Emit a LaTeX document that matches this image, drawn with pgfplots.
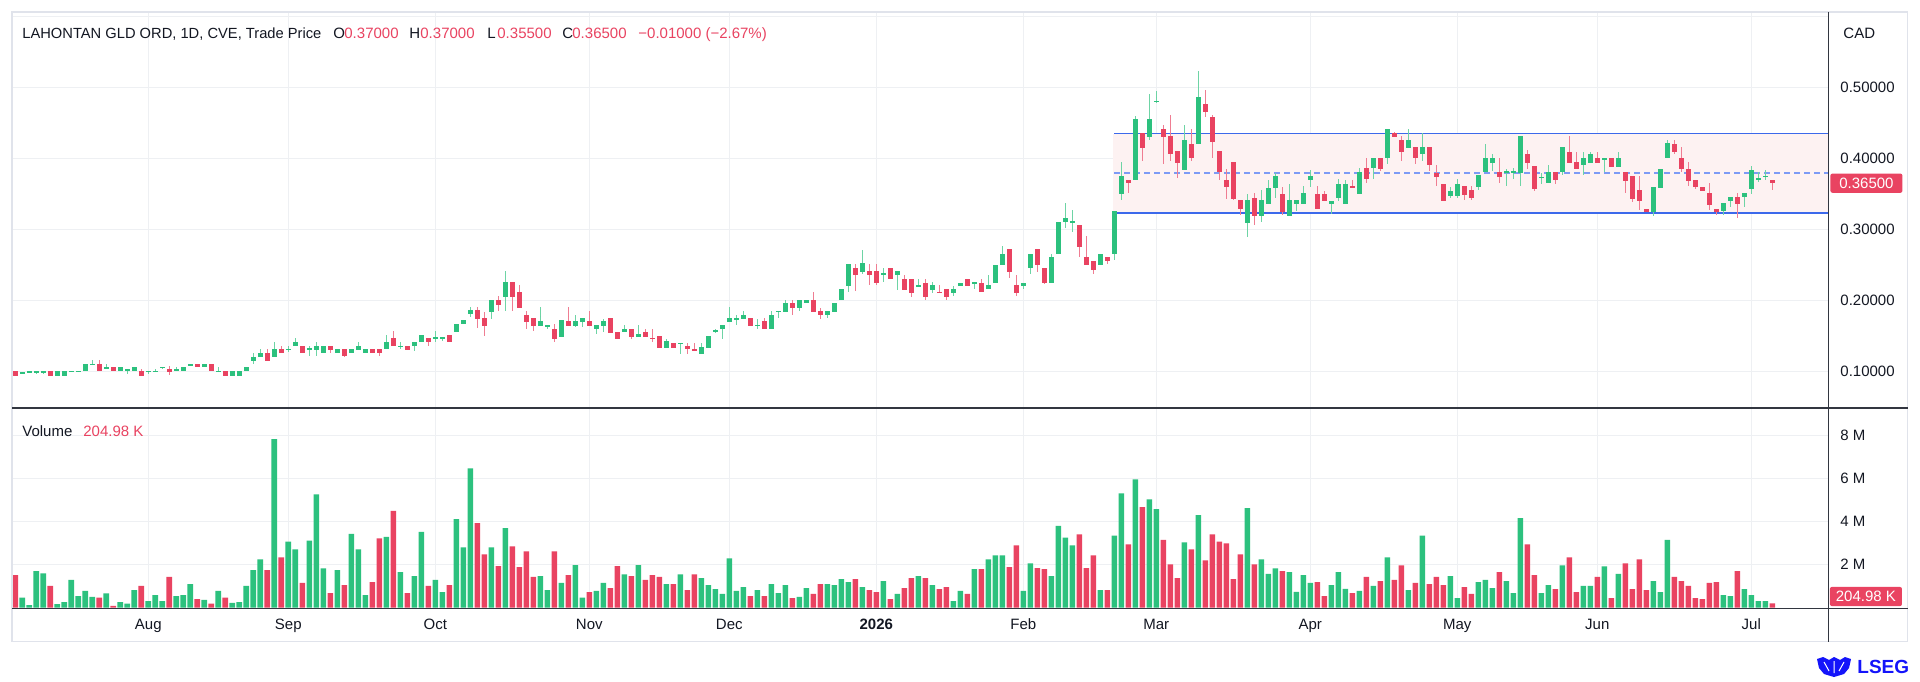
\documentclass[border=0pt]{standalone}
\usepackage{pgfplots}
\pgfplotsset{compat=1.18}
\usepackage{pgfplotstable}
\usepackage{fontspec}
\setmainfont{Liberation Sans}
\definecolor{up}{RGB}{44,193,126}
\definecolor{dn}{RGB}{233,67,97}
\definecolor{upw}{RGB}{110,212,165}
\definecolor{dnw}{RGB}{239,125,146}
\definecolor{gridc}{RGB}{238,240,243}
\definecolor{txt}{RGB}{19,23,34}
\definecolor{boxfill}{RGB}{253,242,242}
\definecolor{boxline}{RGB}{60,105,235}
\definecolor{boxdash}{RGB}{125,155,245}
\definecolor{framec}{RGB}{224,227,235}
\definecolor{sepc}{RGB}{50,54,64}
\definecolor{lseg}{RGB}{20,20,250}
\newcommand{\f}{\fontsize{7.5}{9}\selectfont}

\pgfplotstableread{
i o h l c v
0 0.100 0.100 0.094 0.094 1.52
1 0.098 0.099 0.096 0.098 0.47
2 0.099 0.0995 0.098 0.099 0.12
3 0.099 0.099 0.096 0.099 1.70
4 0.099 0.099 0.096 0.099 1.60
5 0.100 0.100 0.094 0.094 1.01
6 0.094 0.100 0.094 0.100 0.17
7 0.094 0.100 0.094 0.100 0.26
8 0.100 0.100 0.100 0.100 1.29
9 0.100 0.100 0.100 0.100 0.54
10 0.100 0.110 0.100 0.110 0.78
11 0.110 0.116 0.110 0.110 0.50
12 0.110 0.116 0.100 0.100 0.47
13 0.105 0.110 0.105 0.1055 0.67
14 0.1055 0.1055 0.100 0.100 0.09
15 0.100 0.1055 0.100 0.1055 0.26
16 0.102 0.1033 0.096 0.102 0.19
17 0.100 0.1055 0.100 0.1055 0.82
18 0.100 0.1033 0.094 0.094 1.01
19 0.100 0.100 0.096 0.100 0.31
20 0.100 0.1033 0.100 0.100 0.59
21 0.1055 0.1055 0.1033 0.1055 0.31
22 0.1033 0.107 0.0955 0.0985 1.43
23 0.100 0.1055 0.100 0.1033 0.54
24 0.100 0.1055 0.100 0.1055 0.59
25 0.109 0.110 0.108 0.110 1.10
26 0.110 0.110 0.1055 0.1055 0.40
27 0.1055 0.110 0.1055 0.110 0.36
28 0.110 0.110 0.100 0.100 0.19
29 0.100 0.1055 0.100 0.100 0.78
30 0.100 0.100 0.094 0.094 0.47
31 0.094 0.100 0.094 0.100 0.23
32 0.094 0.100 0.094 0.100 0.26
33 0.100 0.1055 0.100 0.1055 1.01
34 0.115 0.1255 0.111 0.120 1.75
35 0.120 0.1316 0.120 0.1255 2.25
36 0.1255 0.1316 0.115 0.115 1.75
37 0.120 0.141 0.120 0.1316 7.84
38 0.1316 0.1354 0.1255 0.1255 2.34
39 0.131 0.1354 0.127 0.1316 3.07
40 0.1354 0.1472 0.1354 0.141 2.71
41 0.1354 0.1354 0.1255 0.1255 1.15
42 0.1316 0.1354 0.1212 0.1316 3.12
43 0.1307 0.141 0.1212 0.1354 5.27
44 0.1255 0.1354 0.1255 0.1354 1.83
45 0.1354 0.1354 0.1255 0.1307 0.68
46 0.1255 0.1316 0.1255 0.1316 1.75
47 0.1316 0.1316 0.1198 0.1222 1.05
48 0.1255 0.1316 0.1255 0.1316 3.44
49 0.1307 0.141 0.1307 0.1354 2.71
50 0.1255 0.1316 0.1255 0.1316 0.59
51 0.1316 0.1316 0.1255 0.1255 1.19
52 0.1316 0.1316 0.1212 0.1255 3.22
53 0.1316 0.1505 0.1316 0.141 3.30
54 0.1472 0.1571 0.1354 0.1354 4.50
55 0.1354 0.141 0.1316 0.1354 1.66
56 0.1354 0.1354 0.1307 0.1307 0.68
57 0.1354 0.141 0.129 0.141 1.47
58 0.141 0.1505 0.141 0.1505 3.53
59 0.1472 0.1472 0.1354 0.141 1.01
60 0.147 0.1571 0.141 0.1472 1.29
61 0.147 0.1472 0.1434 0.1472 0.73
62 0.1505 0.1505 0.141 0.141 1.05
63 0.1552 0.166 0.1552 0.166 4.12
64 0.166 0.1717 0.166 0.1717 2.81
65 0.1811 0.1906 0.1764 0.1858 6.48
66 0.1858 0.1906 0.1608 0.1741 3.94
67 0.1755 0.183 0.150 0.164 2.48
68 0.1835 0.200 0.173 0.200 2.81
69 0.200 0.206 0.185 0.194 1.94
70 0.205 0.241 0.185 0.226 3.70
71 0.226 0.226 0.185 0.205 2.85
72 0.212 0.221 0.189 0.189 1.89
73 0.180 0.185 0.160 0.169 2.62
74 0.1755 0.1755 0.157 0.164 1.43
75 0.164 0.190 0.164 0.171 1.47
76 0.164 0.164 0.160 0.164 0.82
77 0.160 0.166 0.141 0.146 2.62
78 0.149 0.172 0.149 0.172 1.15
79 0.171 0.190 0.164 0.164 1.52
80 0.164 0.180 0.162 0.171 1.98
81 0.169 0.175 0.163 0.175 0.47
82 0.171 0.185 0.164 0.164 0.73
83 0.159 0.165 0.153 0.165 0.78
84 0.164 0.173 0.156 0.171 1.15
85 0.175 0.175 0.154 0.154 0.91
86 0.155 0.155 0.146 0.146 1.94
87 0.155 0.165 0.155 0.159 1.55
88 0.160 0.160 0.146 0.149 1.47
89 0.149 0.165 0.149 0.153 1.98
90 0.155 0.160 0.149 0.149 1.29
91 0.1465 0.160 0.141 0.146 1.52
92 0.150 0.150 0.133 0.133 1.43
93 0.133 0.146 0.133 0.143 1.10
94 0.140 0.140 0.133 0.133 1.10
95 0.1395 0.140 0.125 0.140 1.55
96 0.135 0.140 0.125 0.131 0.82
97 0.1302 0.140 0.130 0.130 1.55
98 0.124 0.140 0.124 0.1345 1.38
99 0.133 0.1495 0.133 0.1495 1.05
100 0.1565 0.160 0.154 0.157 0.87
101 0.160 0.1646 0.146 0.1646 0.64
102 0.169 0.190 0.169 0.1755 2.29
103 0.1735 0.180 0.165 0.174 0.78
104 0.174 0.185 0.174 0.180 0.96
105 0.1755 0.1755 0.164 0.164 0.54
106 0.1645 0.174 0.160 0.165 0.82
107 0.171 0.1755 0.160 0.160 0.54
108 0.159 0.185 0.159 0.180 1.10
109 0.1845 0.185 0.175 0.185 0.68
110 0.1835 0.200 0.1835 0.1967 1.05
111 0.196 0.200 0.180 0.189 0.45
112 0.189 0.200 0.185 0.200 0.50
113 0.196 0.200 0.196 0.200 0.91
114 0.200 0.212 0.1835 0.1835 0.64
115 0.185 0.189 0.174 0.179 1.10
116 0.179 0.185 0.175 0.185 1.10
117 0.1835 0.196 0.1835 0.196 1.05
118 0.200 0.2156 0.200 0.2156 1.33
119 0.220 0.251 0.212 0.251 1.19
120 0.246 0.251 0.213 0.235 1.33
121 0.240 0.271 0.237 0.253 0.96
122 0.2406 0.251 0.221 0.2354 0.82
123 0.2406 0.251 0.221 0.225 0.73
124 0.2375 0.246 0.226 0.238 1.24
125 0.246 0.246 0.2297 0.2297 0.40
126 0.236 0.2406 0.215 0.2406 0.64
127 0.2307 0.2354 0.2146 0.2146 0.91
128 0.2307 0.2307 0.204 0.210 1.38
129 0.2205 0.2307 0.2205 0.221 1.47
130 0.225 0.2307 0.200 0.204 1.38
131 0.2146 0.2255 0.211 0.221 1.05
132 0.2112 0.221 0.211 0.211 0.87
133 0.2156 0.2156 0.200 0.2047 0.96
134 0.210 0.2203 0.2061 0.2156 0.31
135 0.2203 0.225 0.2203 0.225 0.78
136 0.2305 0.2305 0.220 0.220 0.64
137 0.2245 0.225 0.216 0.225 1.80
138 0.225 0.2305 0.212 0.212 1.80
139 0.2155 0.236 0.2155 0.221 2.25
140 0.225 0.250 0.225 0.250 2.43
141 0.250 0.2765 0.250 0.265 2.43
142 0.272 0.272 0.232 0.240 1.89
143 0.221 0.236 0.206 0.210 2.90
144 0.2202 0.225 0.216 0.225 0.78
145 0.246 0.265 0.2366 0.265 2.06
146 0.272 0.272 0.240 0.250 1.84
147 0.246 0.246 0.2225 0.225 1.80
148 0.225 0.265 0.225 0.261 1.47
149 0.265 0.311 0.265 0.311 3.81
150 0.311 0.3366 0.3014 0.3164 3.26
151 0.3105 0.3267 0.2967 0.311 2.90
152 0.3056 0.3056 0.2615 0.2756 3.41
153 0.2615 0.2906 0.2498 0.2498 1.84
154 0.2554 0.2554 0.2366 0.2427 2.43
155 0.2498 0.2648 0.2498 0.2648 0.82
156 0.261 0.261 0.2507 0.2554 0.82
157 0.2648 0.3258 0.2563 0.3258 3.35
158 0.350 0.395 0.342 0.3756 5.32
159 0.3695 0.3695 0.351 0.365 2.95
160 0.3695 0.4596 0.3695 0.4559 5.97
161 0.4352 0.4352 0.3958 0.415 4.68
162 0.4305 0.4906 0.4258 0.4559 5.04
163 0.480 0.4944 0.478 0.4808 4.59
164 0.4408 0.4465 0.3915 0.4305 3.16
165 0.4315 0.4605 0.3958 0.4056 2.02
166 0.4103 0.4103 0.3728 0.394 1.38
167 0.384 0.4465 0.384 0.4258 3.04
168 0.4197 0.4413 0.3958 0.400 2.71
169 0.4197 0.523 0.4197 0.4869 4.31
170 0.4765 0.4963 0.4577 0.4652 2.20
171 0.4577 0.4605 0.4009 0.423 3.41
172 0.4103 0.4103 0.3695 0.3803 3.07
173 0.3695 0.3845 0.3432 0.3592 2.99
174 0.3948 0.3948 0.3408 0.3432 1.33
175 0.3408 0.3408 0.3197 0.3291 2.48
176 0.3094 0.3502 0.2897 0.3413 4.63
177 0.3446 0.3516 0.3056 0.3188 2.02
178 0.3188 0.3549 0.3103 0.3408 2.25
179 0.3352 0.369 0.3352 0.3577 1.57
180 0.3577 0.3798 0.3446 0.3751 1.83
181 0.3502 0.3596 0.3197 0.3244 1.70
182 0.3188 0.3643 0.3188 0.3408 1.66
183 0.3352 0.3413 0.3258 0.3413 0.74
184 0.3352 0.3615 0.3352 0.3507 1.52
185 0.369 0.384 0.3601 0.3751 1.15
186 0.3502 0.3615 0.3286 0.3286 1.19
187 0.3502 0.354 0.3399 0.3399 0.54
188 0.3352 0.3399 0.3211 0.3399 1.05
189 0.3446 0.3704 0.3399 0.3643 1.66
190 0.3352 0.369 0.3352 0.3643 0.88
191 0.3605 0.369 0.3601 0.3601 0.68
192 0.3493 0.3859 0.3493 0.3803 0.78
193 0.3859 0.400 0.3657 0.3704 1.43
194 0.3859 0.400 0.3709 0.400 1.01
195 0.400 0.400 0.3822 0.3845 1.24
196 0.400 0.4408 0.392 0.4408 2.34
197 0.4352 0.4376 0.4305 0.4305 1.29
198 0.4258 0.4315 0.3958 0.4094 1.97
199 0.415 0.4408 0.415 0.4258 0.82
200 0.4164 0.4164 0.3915 0.400 1.15
201 0.4056 0.4352 0.3958 0.4164 3.35
202 0.4164 0.4164 0.3822 0.3906 1.10
203 0.3798 0.3906 0.3615 0.3737 1.43
204 0.3643 0.3643 0.3399 0.3399 1.05
205 0.3474 0.3601 0.3446 0.354 1.47
206 0.3474 0.3704 0.3446 0.3643 0.45
207 0.3606 0.3606 0.3408 0.3488 0.96
208 0.3549 0.361 0.3408 0.3446 0.64
209 0.3596 0.3761 0.3559 0.3761 1.19
210 0.3803 0.4197 0.3803 0.400 1.29
211 0.3939 0.4061 0.3816 0.400 0.91
212 0.3811 0.400 0.3656 0.3741 1.66
213 0.3806 0.3844 0.3608 0.3811 1.24
214 0.3806 0.3858 0.3703 0.3811 0.68
215 0.3797 0.4316 0.3608 0.4316 4.17
216 0.4061 0.4118 0.3844 0.3939 2.95
217 0.3892 0.3892 0.3542 0.3575 1.52
218 0.373 0.3797 0.3641 0.3736 0.68
219 0.3646 0.3906 0.3646 0.3811 1.05
220 0.3811 0.3811 0.3637 0.3693 0.87
221 0.3811 0.4156 0.3764 0.4156 1.97
222 0.4094 0.4316 0.3939 0.3939 2.34
223 0.3953 0.4094 0.3844 0.3844 0.73
224 0.3906 0.4094 0.3764 0.400 1.01
225 0.3939 0.4094 0.3939 0.4061 1.01
226 0.400 0.4094 0.3939 0.3939 1.43
227 0.3995 0.400 0.3811 0.400 1.92
228 0.400 0.400 0.3873 0.3873 0.45
229 0.3873 0.4094 0.3873 0.400 1.57
230 0.3811 0.3811 0.3505 0.3684 2.06
231 0.375 0.375 0.3387 0.3434 0.87
232 0.3547 0.375 0.3274 0.3396 2.25
233 0.3288 0.3288 0.3241 0.3241 0.82
234 0.3241 0.3594 0.3193 0.3594 1.24
235 0.3585 0.3849 0.3585 0.3849 0.73
236 0.400 0.4259 0.400 0.4212 3.16
237 0.4203 0.4259 0.4061 0.4094 1.43
238 0.400 0.4156 0.3811 0.3844 1.24
239 0.3844 0.3953 0.3608 0.3684 1.01
240 0.3693 0.3693 0.3561 0.3599 0.45
241 0.3599 0.3599 0.3538 0.3538 0.40
242 0.3505 0.3656 0.3274 0.334 1.15
243 0.3288 0.3288 0.3208 0.3241 1.19
244 0.3255 0.3373 0.3208 0.3373 0.59
245 0.3392 0.3453 0.3316 0.3453 0.54
246 0.3462 0.3509 0.316 0.3358 1.70
247 0.3458 0.3509 0.3316 0.3509 0.87
248 0.3575 0.3892 0.350 0.383 0.59
249 0.370 0.3811 0.3665 0.3726 0.31
250 0.3745 0.384 0.3698 0.375 0.31
251 0.370 0.370 0.355 0.365 0.205
}\data

\pgfplotsset{tvaxis/.style={
  scale only axis, width=908pt,
  xmin=-0.471, xmax=258.96,
  axis line style={draw=none}, major tick length=0pt,
  xtick={19,39,60,82,102,123,144,163,185,206,226,248},
  grid=major, grid style={gridc, line width=0.6pt},
  yticklabel pos=right,
  yticklabel style={anchor=west, inner sep=0pt, xshift=6pt, font=\f, text=txt},
  clip mode=individual,
},
candle/.style={only marks, mark=*, mark size=0pt, mark options={draw=none, fill=none},
  error bars/.cd, y dir=both, y explicit, error mark=none}
}

\begin{document}
\begin{tikzpicture}
\begin{scope}[x=0.5pt,y=-0.5pt]
\fill[white] (0,0) rectangle (1920,681);
\useasboundingbox (0,0) rectangle (1920,681);
\end{scope}

% price pane
\begin{axis}[tvaxis, at={(6pt,-204pt)}, anchor=south west, height=198pt,
  ymin=0.04831, ymax=0.6061,
  xticklabels={},
  ytick={0.1,0.2,0.3,0.4,0.5,0.6},
  yticklabels={0.10000,0.20000,0.30000,0.40000,0.50000,{}},
]
\fill[boxfill] (axis cs:156.8,0.323) rectangle (axis cs:258.96,0.4348);
\draw[boxline, line width=0.75pt] (axis cs:157,0.4348) -- (axis cs:258.96,0.4348);
\draw[boxline, line width=0.75pt] (axis cs:157,0.323) -- (axis cs:258.96,0.323);
\draw[boxdash, line width=0.75pt, dash pattern=on 3pt off 2pt] (axis cs:157,0.379) -- (axis cs:258.96,0.379);
% wicks
\addplot[restrict expr to domain={\thisrow{c}-\thisrow{o}}{0:1},
  candle, error bar style={upw, line width=0.75pt}]
  table[x=i, y expr={(\thisrow{h}+\thisrow{l})/2}, y error expr={(\thisrow{h}-\thisrow{l})/2}] {\data};
\addplot[restrict expr to domain={\thisrow{c}-\thisrow{o}}{-1:-0.0000001},
  candle, error bar style={dnw, line width=0.75pt}]
  table[x=i, y expr={(\thisrow{h}+\thisrow{l})/2}, y error expr={(\thisrow{h}-\thisrow{l})/2}] {\data};
% bodies
\addplot[restrict expr to domain={\thisrow{c}-\thisrow{o}}{0:1},
  candle, error bar style={up, line width=2.6pt}]
  table[x=i, y expr={(\thisrow{o}+\thisrow{c})/2}, y error expr={max(abs(\thisrow{c}-\thisrow{o})/2,0.0008)}] {\data};
\addplot[restrict expr to domain={\thisrow{c}-\thisrow{o}}{-1:-0.0000001},
  candle, error bar style={dn, line width=2.6pt}]
  table[x=i, y expr={(\thisrow{o}+\thisrow{c})/2}, y error expr={max(abs(\thisrow{c}-\thisrow{o})/2,0.0008)}] {\data};
\node[fill=dn, text=white, font=\f, inner sep=0pt, minimum width=36pt, minimum height=9.6pt,
  anchor=west, rounded corners=1pt, xshift=1pt] at (axis cs:258.96,0.365) {0.36500};
\end{axis}

% volume pane
\begin{axis}[tvaxis, at={(6pt,-303.85pt)}, anchor=south west, height=99.85pt,
  ymin=0, ymax=9.288,
  xticklabels={Aug,Sep,Oct,Nov,Dec,\textbf{2026},Feb,Mar,Apr,May,Jun,Jul},
  xticklabel style={anchor=base, inner sep=0pt, yshift=-11pt, font=\f, text=txt},
  ytick={2,4,6,8}, yticklabels={2 M,4 M,6 M,8 M},
]
\addplot[ybar, bar width=2.8pt, bar shift=0pt, fill=up, draw=none,
  restrict expr to domain={\thisrow{c}-\thisrow{o}}{0:1}] table[x=i, y=v] {\data};
\addplot[ybar, bar width=2.8pt, bar shift=0pt, fill=dn, draw=none,
  restrict expr to domain={\thisrow{c}-\thisrow{o}}{-1:-0.0000001}] table[x=i, y=v] {\data};
\end{axis}

\begin{scope}[x=0.5pt,y=-0.5pt]
\draw[framec, line width=0.75pt] (12,12) rectangle (1907.5,641.5);
\draw[sepc, line width=1pt] (12,408) -- (1907.5,408);
\draw[sepc, line width=0.75pt] (12,608.3) -- (1907.5,608.3);
\draw[sepc, line width=0.75pt] (1828.5,12) -- (1828.5,641.5);
% title row
\node[anchor=base west, inner sep=0pt, font=\fontsize{7.35}{9}\selectfont, text=txt] at (22,38) {LAHONTAN GLD ORD, 1D, CVE, Trade Price};
\node[anchor=base west, inner sep=0pt, font=\f, text=txt] at (333,38) {O};
\node[anchor=base west, inner sep=0pt, font=\f, text=dn] at (344,38) {0.37000};
\node[anchor=base west, inner sep=0pt, font=\f, text=txt] at (409,38) {H};
\node[anchor=base west, inner sep=0pt, font=\f, text=dn] at (420,38) {0.37000};
\node[anchor=base west, inner sep=0pt, font=\f, text=txt] at (487,38) {L};
\node[anchor=base west, inner sep=0pt, font=\f, text=dn] at (497,38) {0.35500};
\node[anchor=base west, inner sep=0pt, font=\f, text=txt] at (562,38) {C};
\node[anchor=base west, inner sep=0pt, font=\f, text=dn] at (572,38) {0.36500};
\node[anchor=base west, inner sep=0pt, font=\f, text=dn] at (638,38) {−0.01000 (−2.67\%)};
\node[anchor=base west, inner sep=0pt, font=\f, text=txt] at (1843,38) {CAD};
% volume title
\node[anchor=base west, inner sep=0pt, font=\f, text=txt] at (22,436) {Volume};
\node[anchor=base west, inner sep=0pt, font=\f, text=dn] at (83,436) {204.98 K};
\node[fill=dn, text=white, font=\f, inner sep=0pt, minimum width=36pt, minimum height=9.6pt,
  anchor=west, rounded corners=1pt] at (1829.5,596.5) {204.98 K};
% LSEG logo
\fill[lseg] (1817,659) -- (1823,657) -- (1829,660) -- (1834,657) -- (1840,660) -- (1845,657) -- (1851,659)
  -- (1849,668) -- (1844,674) -- (1834,677) -- (1824,674) -- (1819,668) -- cycle;
\draw[white, line width=0.5pt] (1824,662) -- (1829,671) (1844,662) -- (1839,671) (1834,661) -- (1834,673);
\node[anchor=west, inner sep=0pt, font=\fontsize{9.5}{11}\selectfont\bfseries, text=lseg] at (1857,666.5) {LSEG};
\end{scope}
\end{tikzpicture}
\end{document}
